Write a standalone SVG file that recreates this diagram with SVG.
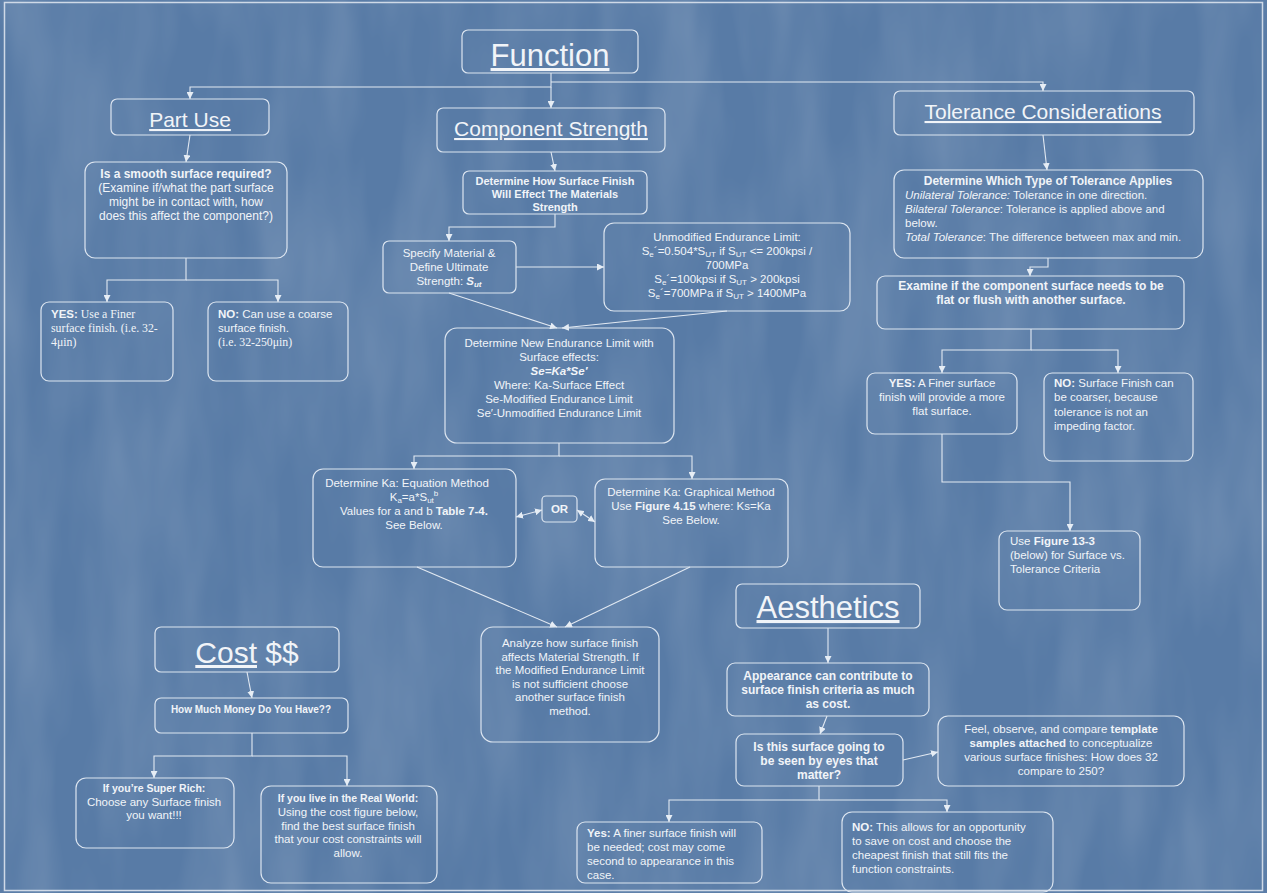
<svg xmlns="http://www.w3.org/2000/svg" width="1267" height="893" viewBox="0 0 1267 893">
<defs>
<style>
.t{font-family:"Liberation Sans",Arial,sans-serif;fill:#f1f4f8;font-size:11.5px}
.c{text-anchor:middle}
.b{font-weight:bold}
.bi{font-weight:bold;font-style:italic}
.i{font-style:italic}
.sf{font-family:"Liberation Serif","Times New Roman",serif}
.u{text-decoration:underline}
.h1{font-size:31px}
.h2{font-size:21px}
.box{fill:none;stroke:#dce5f0;stroke-width:1.2}
.cn{fill:none;stroke:#e2e9f2;stroke-width:1.1}
</style>
<marker id="ah" viewBox="0 0 8 8" refX="8" refY="4" markerWidth="7" markerHeight="7" markerUnits="userSpaceOnUse" orient="auto-start-reverse"><path d="M0,0 L8,4 L0,8 z" fill="#e6edf5"/></marker>
<filter id="tex" x="0" y="0" width="100%" height="100%">
<feTurbulence type="fractalNoise" baseFrequency="0.02 0.005" numOctaves="3" seed="7" result="n"/>
<feColorMatrix in="n" type="matrix" values="0 0 0 0 1  0 0 0 0 1  0 0 0 0 1  0 0 0 0.22 -0.07"/>
</filter>
</defs>
<rect x="0" y="0" width="1267" height="893" fill="#587ba6"/>
<rect x="0" y="0" width="1267" height="893" filter="url(#tex)"/>
<rect x="4.5" y="2.5" width="1258" height="888" fill="none" stroke="#cfd9e7" stroke-width="1.5"/>

<g id="connectors" class="cn">
<path d="M551,73 V87 H190 V99" marker-end="url(#ah)"/>
<path d="M551,87 V108" marker-end="url(#ah)"/>
<path d="M551,82 H1043 V91" marker-end="url(#ah)"/>
<path d="M190,135 L186,162" marker-end="url(#ah)"/>
<path d="M186,258 V280 H107 V302" marker-end="url(#ah)"/>
<path d="M186,280 H278 V302" marker-end="url(#ah)"/>
<path d="M551,152 L555,171" marker-end="url(#ah)"/>
<path d="M555,214 V227 H449 V241" marker-end="url(#ah)"/>
<path d="M516,267 H604" marker-end="url(#ah)"/>
<path d="M449,293 L557,328" marker-end="url(#ah)"/>
<path d="M727,311 L562,328" marker-end="url(#ah)"/>
<path d="M559,443 V456 H414 V469" marker-end="url(#ah)"/>
<path d="M559,456 H692 V479" marker-end="url(#ah)"/>
<path d="M516,517 L542,510" marker-start="url(#ah)" marker-end="url(#ah)"/>
<path d="M577,510 L595,522" marker-start="url(#ah)" marker-end="url(#ah)"/>
<path d="M417,567 L557,627" marker-end="url(#ah)"/>
<path d="M690,567 L565,627" marker-end="url(#ah)"/>
<path d="M1043,135 L1047,170" marker-end="url(#ah)"/>
<path d="M1048,258 V267 H1030 V276" marker-end="url(#ah)"/>
<path d="M1031,329 V350 H942 V373" marker-end="url(#ah)"/>
<path d="M1031,350 H1118 V373" marker-end="url(#ah)"/>
<path d="M942,434 V482 H1070 V531" marker-end="url(#ah)"/>
<path d="M247,672 L252,698" marker-end="url(#ah)"/>
<path d="M252,733 V756 H154 V778" marker-end="url(#ah)"/>
<path d="M252,756 H347 V786" marker-end="url(#ah)"/>
<path d="M828,628 V663" marker-end="url(#ah)"/>
<path d="M827,716 L820,734" marker-end="url(#ah)"/>
<path d="M903,760 L938,752" marker-end="url(#ah)"/>
<path d="M819,786 V800 H669 V822" marker-end="url(#ah)"/>
<path d="M819,800 H947 V812" marker-end="url(#ah)"/>
</g>

<g id="function">
<rect class="box" x="462" y="30" width="176" height="43" rx="6"/>
<text class="t c u h1" x="550" y="66">Function</text>
</g>
<g id="part-use">
<rect class="box" x="111" y="99" width="158" height="36" rx="6"/>
<text class="t c u h2" x="190" y="127">Part Use</text>
</g>
<g id="component-strength">
<rect class="box" x="437" y="108" width="228" height="44" rx="6"/>
<text class="t c u h2" x="551" y="136">Component Strength</text>
</g>
<g id="tolerance">
<rect class="box" x="894" y="91" width="300" height="44" rx="6"/>
<text class="t c u h2" x="1043" y="119">Tolerance Considerations</text>
</g>

<g id="smooth">
<rect class="box" x="85" y="162" width="202" height="96" rx="10"/>
<text class="t c" x="186" style="font-size:12px"><tspan class="b" x="186" y="178">Is a smooth surface required?</tspan><tspan x="186" y="192">(Examine if/what the part surface</tspan><tspan x="186" y="206">might be in contact with, how</tspan><tspan x="186" y="220">does this affect the component?)</tspan></text>
</g>
<g id="part-yes">
<rect class="box" x="41" y="302" width="132" height="79" rx="8"/>
<text class="t" x="51" y="318"><tspan class="b">YES:</tspan><tspan class="sf" style="font-size:11.8px"> Use a Finer</tspan></text>
<text class="t sf" style="font-size:11.8px" x="51" y="332">surface finish. (i.e. 32-</text>
<text class="t sf" style="font-size:11.8px" x="51" y="346">4μin)</text>
</g>
<g id="part-no">
<rect class="box" x="208" y="302" width="140" height="79" rx="8"/>
<text class="t" x="218" y="318"><tspan class="b">NO:</tspan> Can use a coarse</text>
<text class="t" x="218" y="332">surface finish.</text>
<text class="t sf" style="font-size:11.8px" x="218" y="346">(i.e. 32-250μin)</text>
</g>

<g id="determine-how">
<rect class="box" x="463" y="171" width="184" height="43" rx="6"/>
<text class="t c b" style="font-size:11px"><tspan x="555" y="185">Determine How Surface Finish</tspan><tspan x="555" y="198">Will Effect The Materials</tspan><tspan x="555" y="211">Strength</tspan></text>
</g>
<g id="specify">
<rect class="box" x="383" y="241" width="133" height="52" rx="6"/>
<text class="t c"><tspan x="449" y="257">Specify Material &amp;</tspan><tspan x="449" y="271">Define Ultimate</tspan><tspan x="449" y="285">Strength: <tspan class="bi">S</tspan><tspan class="bi" style="font-size:8px" dy="2">ut</tspan></tspan></text>
</g>
<g id="unmodified">
<rect class="box" x="604" y="223" width="246" height="88" rx="10"/>
<text class="t c" x="727" y="241">Unmodified Endurance Limit:</text>
<text class="t c" x="727" y="255">S<tspan style="font-size:8px" dy="2">e</tspan><tspan dy="-2">´=0.504*S</tspan><tspan style="font-size:8px" dy="2">UT</tspan><tspan dy="-2">   if S</tspan><tspan style="font-size:8px" dy="2">UT</tspan><tspan dy="-2"> &lt;= 200kpsi /</tspan></text>
<text class="t c" x="727" y="269">700MPa</text>
<text class="t c" x="727" y="283">S<tspan style="font-size:8px" dy="2">e</tspan><tspan dy="-2">´=100kpsi if S</tspan><tspan style="font-size:8px" dy="2">UT</tspan><tspan dy="-2"> &gt; 200kpsi</tspan></text>
<text class="t c" x="727" y="297">S<tspan style="font-size:8px" dy="2">e</tspan><tspan dy="-2">´=700MPa if S</tspan><tspan style="font-size:8px" dy="2">UT</tspan><tspan dy="-2"> &gt; 1400MPa</tspan></text>
</g>
<g id="endurance">
<rect class="box" x="445" y="328" width="229" height="115" rx="12"/>
<text class="t c"><tspan x="559" y="347">Determine New Endurance Limit with</tspan><tspan x="559" y="361">Surface effects:</tspan><tspan class="bi" x="559" y="375">Se=Ka*Se′</tspan><tspan x="559" y="389">Where: Ka-Surface Effect</tspan><tspan x="559" y="403">Se-Modified Endurance Limit</tspan><tspan x="559" y="417">Se′-Unmodified Endurance Limit</tspan></text>
</g>
<g id="equation">
<rect class="box" x="313" y="469" width="203" height="98" rx="10"/>
<text class="t c" x="407" y="487">Determine Ka: Equation Method</text>
<text class="t c" x="414" y="501">K<tspan style="font-size:8px" dy="2">a</tspan><tspan dy="-2">=a*S</tspan><tspan style="font-size:8px" dy="2">ut</tspan><tspan style="font-size:8px" dy="-7">b</tspan></text>
<text class="t c" x="414" y="515">Values for a and b <tspan class="b">Table 7-4.</tspan></text>
<text class="t c" x="414" y="529">See Below.</text>
</g>
<g id="or">
<rect class="box" x="542" y="496" width="35" height="26" rx="4"/>
<text class="t c b" x="559.5" y="513">OR</text>
</g>
<g id="graphical">
<rect class="box" x="595" y="479" width="193" height="88" rx="10"/>
<text class="t c"><tspan x="691" y="496">Determine Ka: Graphical Method</tspan><tspan x="691" y="510">Use <tspan class="b">Figure 4.15</tspan> where: Ks=Ka</tspan><tspan x="691" y="524">See Below.</tspan></text>
</g>
<g id="analyze">
<rect class="box" x="481" y="627" width="178" height="115" rx="12"/>
<text class="t c"><tspan x="570" y="647">Analyze how surface finish</tspan><tspan x="570" y="661">affects Material Strength. If</tspan><tspan x="570" y="674">the Modified Endurance Limit</tspan><tspan x="570" y="688">is not sufficient choose</tspan><tspan x="570" y="701">another surface finish</tspan><tspan x="570" y="715">method.</tspan></text>
</g>

<g id="which-tolerance">
<rect class="box" x="894" y="170" width="309" height="88" rx="10"/>
<text class="t c b" x="1048" y="185" style="font-size:12px">Determine Which Type of Tolerance Applies</text>
<text class="t" x="905" y="199"><tspan class="i">Unilateral Tolerance:</tspan> Tolerance in one direction.</text>
<text class="t" x="905" y="213"><tspan class="i">Bilateral Tolerance</tspan>: Tolerance is applied above and</text>
<text class="t" x="905" y="227">below.</text>
<text class="t" x="905" y="241"><tspan class="i">Total Tolerance</tspan>: The difference between max and min.</text>
</g>
<g id="examine">
<rect class="box" x="877" y="276" width="307" height="53" rx="8"/>
<text class="t c b" style="font-size:12px"><tspan x="1031" y="290">Examine if the component surface needs to be</tspan><tspan x="1031" y="304">flat or flush with another surface.</tspan></text>
</g>
<g id="tol-yes">
<rect class="box" x="867" y="373" width="150" height="61" rx="8"/>
<text class="t c"><tspan x="942" y="387"><tspan class="b">YES:</tspan> A Finer surface</tspan><tspan x="942" y="401">finish will provide a more</tspan><tspan x="942" y="415">flat surface.</tspan></text>
</g>
<g id="tol-no">
<rect class="box" x="1044" y="373" width="149" height="88" rx="8"/>
<text class="t"><tspan x="1054" y="387"><tspan class="b">NO:</tspan> Surface Finish can</tspan><tspan x="1054" y="401">be coarser, because</tspan><tspan x="1054" y="416">tolerance is not an</tspan><tspan x="1054" y="430">impeding factor.</tspan></text>
</g>
<g id="figure-13-3">
<rect class="box" x="999" y="531" width="141" height="79" rx="8"/>
<text class="t"><tspan x="1010" y="545">Use <tspan class="b">Figure 13-3</tspan></tspan><tspan x="1010" y="559">(below) for Surface vs.</tspan><tspan x="1010" y="573">Tolerance Criteria</tspan></text>
</g>

<g id="aesthetics">
<rect class="box" x="736" y="584" width="184" height="44" rx="6"/>
<text class="t c u h1" x="828" y="618">Aesthetics</text>
</g>
<g id="appearance">
<rect class="box" x="727" y="663" width="202" height="53" rx="8"/>
<text class="t c b" style="font-size:12px"><tspan x="828" y="680">Appearance can contribute to</tspan><tspan x="828" y="694">surface finish criteria as much</tspan><tspan x="828" y="708">as cost.</tspan></text>
</g>
<g id="seen">
<rect class="box" x="736" y="734" width="167" height="52" rx="8"/>
<text class="t c b" style="font-size:12px"><tspan x="819" y="751">Is this surface going to</tspan><tspan x="819" y="765">be seen by eyes that</tspan><tspan x="819" y="779">matter?</tspan></text>
</g>
<g id="feel">
<rect class="box" x="938" y="716" width="246" height="70" rx="10"/>
<text class="t c"><tspan x="1061" y="733">Feel, observe, and compare <tspan class="b">template</tspan></tspan><tspan x="1061" y="747"><tspan class="b">samples attached</tspan> to conceptualize</tspan><tspan x="1061" y="761">various surface finishes: How does 32</tspan><tspan x="1061" y="775">compare to 250?</tspan></text>
</g>
<g id="aes-yes">
<rect class="box" x="577" y="822" width="185" height="61" rx="8"/>
<text class="t"><tspan x="587" y="837"><tspan class="b">Yes:</tspan> A finer surface finish will</tspan><tspan x="587" y="851">be needed; cost may come</tspan><tspan x="587" y="865">second to appearance in this</tspan><tspan x="587" y="879">case.</tspan></text>
</g>
<g id="aes-no">
<rect class="box" x="842" y="812" width="211" height="80" rx="10"/>
<text class="t"><tspan x="852" y="831"><tspan class="b">NO:</tspan> This allows for an opportunity</tspan><tspan x="852" y="845">to save on cost and choose the</tspan><tspan x="852" y="859">cheapest finish that still fits the</tspan><tspan x="852" y="873">function constraints.</tspan></text>
</g>

<g id="cost">
<rect class="box" x="155" y="627" width="184" height="45" rx="6"/>
<text class="t c" style="font-size:30px" x="247" y="663"><tspan class="u">Cost</tspan> $$</text>
</g>
<g id="money">
<rect class="box" x="155" y="698" width="193" height="35" rx="6"/>
<text class="t c b" style="font-size:10px" x="251" y="713">How Much Money Do You Have??</text>
</g>
<g id="rich">
<rect class="box" x="76" y="778" width="158" height="70" rx="10"/>
<text class="t c"><tspan class="b" style="font-size:10.5px" x="154" y="792">If you’re Super Rich:</tspan><tspan x="154" y="806">Choose any Surface finish</tspan><tspan x="154" y="819">you want!!!</tspan></text>
</g>
<g id="real-world">
<rect class="box" x="261" y="786" width="176" height="97" rx="10"/>
<text class="t c"><tspan class="b" style="font-size:10.5px" x="348" y="802">If you live in the Real World:</tspan><tspan x="348" y="816">Using the cost figure below,</tspan><tspan x="348" y="830">find the best surface finish</tspan><tspan x="348" y="843">that your cost constraints will</tspan><tspan x="348" y="857">allow.</tspan></text>
</g>
</svg>
